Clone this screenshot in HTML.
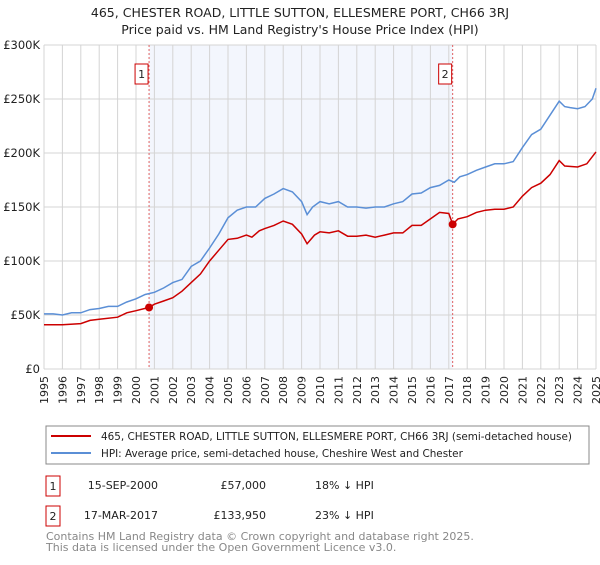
<!DOCTYPE html>
<html><head><meta charset="utf-8"><style>
body{margin:0;background:#fff;font-family:"Liberation Sans","DejaVu Sans",sans-serif;}
svg text{font-family:"DejaVu Sans","Liberation Sans",sans-serif;}
</style></head><body>
<svg id="c" width="600" height="560" xmlns="http://www.w3.org/2000/svg">
<text x="300" y="17" text-anchor="middle" font-size="12.5" fill="#222">465, CHESTER ROAD, LITTLE SUTTON, ELLESMERE PORT, CH66 3RJ</text>
<text x="300" y="34" text-anchor="middle" font-size="12.5" fill="#222">Price paid vs. HM Land Registry's House Price Index (HPI)</text>
<g id="plot"></g>
<g>
<rect x="46" y="426" width="543" height="38" fill="#fff" stroke="#888"/>
<line x1="51" y1="436" x2="91" y2="436" stroke="#cc0000" stroke-width="2"/>
<text x="101" y="440" font-size="10.4" fill="#222">465, CHESTER ROAD, LITTLE SUTTON, ELLESMERE PORT, CH66 3RJ (semi-detached house)</text>
<line x1="51" y1="453" x2="91" y2="453" stroke="#5b8fd6" stroke-width="2"/>
<text x="101" y="457" font-size="10.4" fill="#222">HPI: Average price, semi-detached house, Cheshire West and Chester</text>
</g>
<g font-size="11" fill="#222">
<rect x="46" y="476" width="14" height="20" fill="#fff" stroke="#cc0000"/>
<text x="53" y="490" text-anchor="middle">1</text>
<text x="158" y="489" text-anchor="end">15-SEP-2000</text>
<text x="266" y="489" text-anchor="end">£57,000</text>
<text x="315" y="489">18% ↓ HPI</text>
<rect x="46" y="506" width="14" height="20" fill="#fff" stroke="#cc0000"/>
<text x="53" y="520" text-anchor="middle">2</text>
<text x="158" y="519" text-anchor="end">17-MAR-2017</text>
<text x="266" y="519" text-anchor="end">£133,950</text>
<text x="315" y="519">23% ↓ HPI</text>
</g>
<text x="46" y="540" font-size="11" fill="#888">Contains HM Land Registry data © Crown copyright and database right 2025.</text>
<text x="46" y="551" font-size="11" fill="#888">This data is licensed under the Open Government Licence v3.0.</text>
</svg>
<script>
const hpiYears=[1995,1995.5,1996,1996.5,1997,1997.5,1998,1998.5,1999,1999.5,2000,2000.5,2001,2001.5,2002,2002.5,2003,2003.5,2004,2004.5,2005,2005.5,2006,2006.5,2007,2007.5,2008,2008.5,2009,2009.3,2009.6,2010,2010.5,2011,2011.5,2012,2012.5,2013,2013.5,2014,2014.5,2015,2015.5,2016,2016.5,2017,2017.3,2017.6,2018,2018.5,2019,2019.5,2020,2020.5,2021,2021.5,2022,2022.5,2023,2023.3,2023.6,2024,2024.4,2024.8,2025];
const hpiValues=[51,51,50,52,52,55,56,58,58,62,65,69,71,75,80,83,95,100,112,125,140,147,150,150,158,162,167,164,155,143,150,155,153,155,150,150,149,150,150,153,155,162,163,168,170,175,173,178,180,184,187,190,190,192,205,217,222,235,248,243,242,241,243,250,260];
const ppYears=[1995,1996,1997,1997.5,1998,1999,1999.5,2000,2000.71,2001,2001.5,2002,2002.5,2003,2003.5,2004,2004.5,2005,2005.5,2006,2006.3,2006.7,2007,2007.5,2008,2008.5,2009,2009.3,2009.7,2010,2010.5,2011,2011.5,2012,2012.5,2013,2013.5,2014,2014.5,2015,2015.5,2016,2016.5,2017,2017.21,2017.5,2018,2018.5,2019,2019.5,2020,2020.5,2021,2021.5,2022,2022.5,2023,2023.3,2024,2024.5,2025];
const ppValues=[41,41,42,45,46,48,52,54,57,60,63,66,72,80,88,100,110,120,121,124,122,128,130,133,137,134,125,116,124,127,126,128,123,123,124,122,124,126,126,133,133,139,145,144,133.95,139,141,145,147,148,148,150,160,168,172,180,193,188,187,190,201];
const saleYears=[2000.71,2017.21];
const saleValues=[57,133.95];
const saleLabels=["1","2"];
const yTicks=[0,50,100,150,200,250,300];
const yTickLabels=["£0","£50K","£100K","£150K","£200K","£250K","£300K"];
const xTicks=[1995,1996,1997,1998,1999,2000,2001,2002,2003,2004,2005,2006,2007,2008,2009,2010,2011,2012,2013,2014,2015,2016,2017,2018,2019,2020,2021,2022,2023,2024,2025];

const X0=44,X1=596,Y0=369,Y1=45;
const xs=y=>X0+(y-1995)/30*(X1-X0);
const ys=v=>Y0-v/300*(Y0-Y1);
const NS="http://www.w3.org/2000/svg";
const g=document.getElementById('plot');
function mk(t,a){const e=document.createElementNS(NS,t);for(const k in a)e.setAttribute(k,a[k]);g.appendChild(e);return e;}
const sh=mk('rect',{x:xs(saleYears[0]),y:Y1,width:xs(saleYears[1])-xs(saleYears[0]),height:Y0-Y1,fill:'#f3f6fd'});


xTicks.forEach(t=>{const l=mk('line',{x1:xs(t),x2:xs(t),y1:Y1,y2:Y0,stroke:'#d4d4d4'});


const tx=mk('text',{x:0,y:0,'font-size':'11',fill:'#222','text-anchor':'end',transform:`translate(${xs(t)+4},${Y0+7}) rotate(-90)`});tx.textContent=t;

});
yTicks.forEach((t,i)=>{const l=mk('line',{x1:X0,x2:X1,y1:ys(t),y2:ys(t),stroke:'#d4d4d4'});


const tx=mk('text',{x:X0-4,y:ys(t)+4,'font-size':'11.5',fill:'#222','text-anchor':'end'});tx.textContent=yTickLabels[i];

});
saleYears.forEach((s,i)=>{const l=mk('line',{x1:xs(s),x2:xs(s),y1:Y1,y2:Y0,stroke:'#e06060','stroke-dasharray':'2,2'});


const r=mk('rect',{x:xs(s)-14,y:64,width:13,height:20,fill:'#fff',stroke:'#cc0000'});


const t=mk('text',{x:xs(s)-7.5,y:78,'font-size':'11','text-anchor':'middle',fill:'#222'});t.textContent=saleLabels[i];

});
function path(xa,va,c){return mk('path',{d:xa.map((x,i)=>(i?'L':'M')+xs(x).toFixed(1)+','+ys(va[i]).toFixed(1)).join(''),fill:'none',stroke:c,'stroke-width':1.5});}
const hp=path(hpiYears,hpiValues,'#5b8fd6');


const pp=path(ppYears,ppValues,'#cc0000');


saleYears.forEach((s,i)=>{const c=mk('circle',{cx:xs(s),cy:ys(saleValues[i]),r:4,fill:'#cc0000'});

});
</script>
</body></html>
